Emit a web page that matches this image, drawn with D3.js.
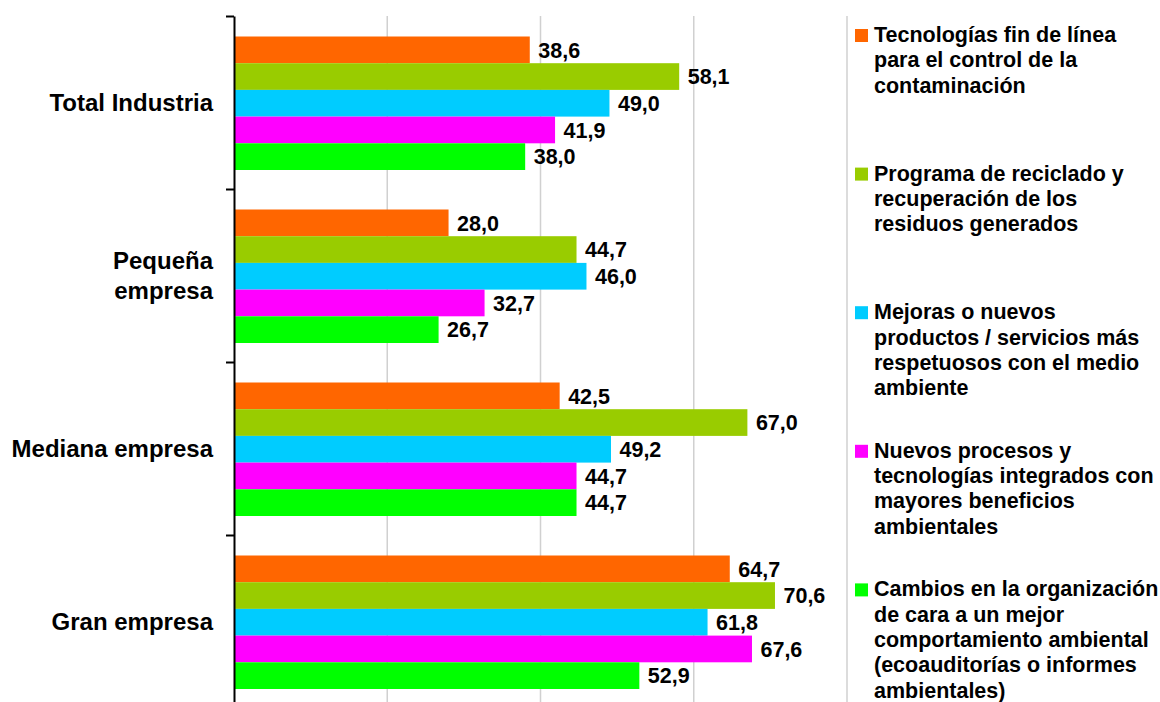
<!DOCTYPE html>
<html>
<head>
<meta charset="utf-8">
<script src="https://cdn.jsdelivr.net/npm/d3@7"></script>
<style>
  html, body { margin: 0; padding: 0; background: #fff; }
  svg { display: block; font-family: "Liberation Sans", Arial, sans-serif; font-weight: bold; }
</style>
</head>
<body>
<svg id="chart" width="1160" height="702"></svg>
<script>
// ---- data ----
const categories = ["Total Industria", "Pequeña empresa", "Mediana empresa", "Gran empresa"];
const categoryLines = [["Total Industria"], ["Pequeña", "empresa"], ["Mediana empresa"], ["Gran empresa"]];
const seriesNames = [
  "Tecnologías fin de línea para el control de la contaminación",
  "Programa de reciclado y recuperación de los residuos generados",
  "Mejoras o nuevos productos / servicios más respetuosos con el medio ambiente",
  "Nuevos procesos y tecnologías integrados con mayores beneficios ambientales",
  "Cambios en la organización de cara a un mejor comportamiento ambiental (ecoauditorías o informes ambientales)"
];
const legendLines = [
  ["Tecnologías fin de línea", "para el control de la", "contaminación"],
  ["Programa de reciclado y", "recuperación de los", "residuos generados"],
  ["Mejoras o nuevos", "productos / servicios más", "respetuosos con el medio", "ambiente"],
  ["Nuevos procesos y", "tecnologías integrados con", "mayores beneficios", "ambientales"],
  ["Cambios en la organización", "de cara a un mejor", "comportamiento ambiental", "(ecoauditorías o informes", "ambientales)"]
];
const tecnologiasFinLinea = [38.6, 28.0, 42.5, 64.7];
const reciclado           = [58.1, 44.7, 67.0, 70.6];
const mejorasProductos    = [49.0, 46.0, 49.2, 61.8];
const nuevosProcesos      = [41.9, 32.7, 44.7, 67.6];
const cambiosOrganizacion = [38.0, 26.7, 44.7, 52.9];
const seriesValues = [tecnologiasFinLinea, reciclado, mejorasProductos, nuevosProcesos, cambiosOrganizacion];
const colors = ["#FF6600", "#99CC00", "#00CCFF", "#FF00FF", "#00FF00"];
const xTicks = [0, 20, 40, 60, 80];

// ---- layout ----
const svg = d3.select("#chart");
const x = d3.scaleLinear().domain([0, 80]).range([234, 847]);
const y0 = d3.scaleBand().domain(categories).range([16, 708]).padding(0);
const y1 = d3.scaleBand().domain(d3.range(seriesNames.length)).range([20.5, 154]).padding(0);

// gridlines
svg.append("g").selectAll("line").data(xTicks.slice(1)).join("line")
  .attr("x1", d => x(d)).attr("x2", d => x(d))
  .attr("y1", 16).attr("y2", 708)
  .attr("stroke", "#D0D0D0").attr("stroke-width", 1.5);

// bars
const groups = svg.append("g").selectAll("g").data(categories).join("g")
  .attr("transform", c => `translate(0,${y0(c)})`);

groups.each(function(c, ci) {
  const g = d3.select(this);
  const rows = seriesValues.map((vals, si) => ({ si, v: vals[ci] }));
  g.selectAll("rect").data(rows).join("rect")
    .attr("x", x(0))
    .attr("y", d => y1(d.si))
    .attr("width", d => x(d.v) - x(0))
    .attr("height", y1.bandwidth())
    .attr("fill", d => colors[d.si]);
  g.selectAll("text").data(rows).join("text")
    .attr("x", d => x(d.v) + 8.5)
    .attr("y", d => y1(d.si) + y1.bandwidth() / 2)
    .attr("dy", "0.36em")
    .attr("font-size", 21.5)
    .attr("fill", "#000")
    .text(d => d3.format(".1f")(d.v).replace(".", ","));
});

// y axis (ticks at band boundaries)
const tickScale = d3.scaleLinear().domain([0, categories.length]).range([16, 708]);
const axis = svg.append("g").attr("transform", `translate(${x(0)},0)`)
  .call(d3.axisLeft(tickScale).ticks(categories.length).tickFormat("").tickSize(8).tickSizeOuter(0));
axis.selectAll("line, path").attr("stroke", "#000").attr("stroke-width", 2);

// category labels
categories.forEach((c, ci) => {
  const lines = categoryLines[ci];
  const cy = y0(c) + y0.bandwidth() / 2;
  const lh = 30;
  const t = svg.append("text")
    .attr("text-anchor", "end")
    .attr("font-size", 24)
    .attr("fill", "#000");
  lines.forEach((ln, li) => {
    t.append("tspan")
      .attr("x", 213)
      .attr("y", cy + (li - (lines.length - 1) / 2) * lh)
      .attr("dy", "0.36em")
      .text(ln);
  });
});

// legend
const legend = svg.append("g");
legendLines.forEach((lines, i) => {
  const base = 42 + i * 138.6;
  legend.append("rect")
    .attr("x", 855).attr("y", base - 13)
    .attr("width", 13).attr("height", 13)
    .attr("fill", colors[i]);
  const t = legend.append("text").attr("font-size", 21.5).attr("fill", "#000");
  lines.forEach((ln, li) => {
    t.append("tspan").attr("x", 874).attr("y", base + li * 25.3).text(ln);
  });
});
</script>
</body>
</html>
